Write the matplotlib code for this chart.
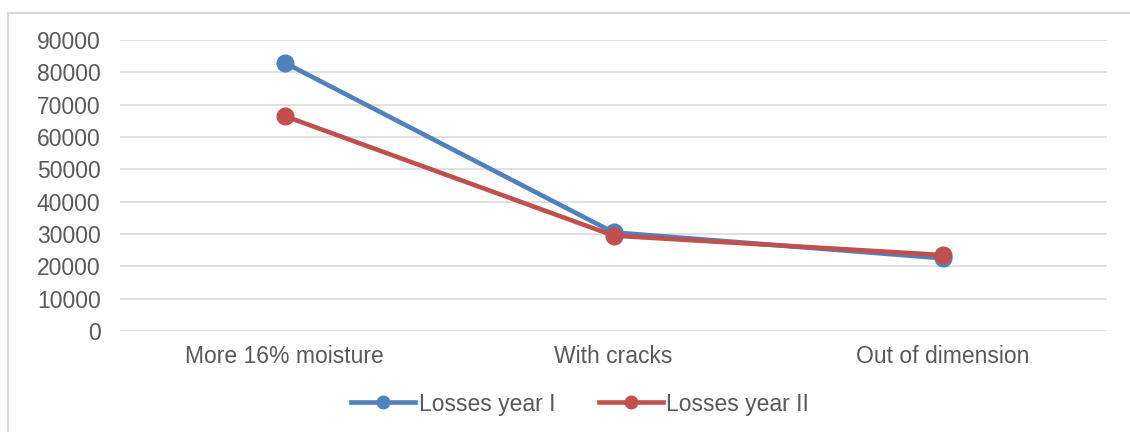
import matplotlib
matplotlib.use("Agg")
import matplotlib.pyplot as plt
from matplotlib.lines import Line2D
from matplotlib.patches import Rectangle

categories = ["More 16% moisture", "With cracks", "Out of dimension"]
losses_year_1 = [83000, 30500, 22500]
losses_year_2 = [66500, 29500, 23500]
yticks = [0, 10000, 20000, 30000, 40000, 50000, 60000, 70000, 80000, 90000]
series_labels = ["Losses year I", "Losses year II"]

BLUE = "#4f81bd"
RED = "#c0504d"
GRID = "#d9d9d9"
TEXT = "#595959"

plt.rcParams['font.family'] = ['Liberation Sans', 'DejaVu Sans']

fig = plt.figure(figsize=(11.30, 4.32), dpi=100)
ax = fig.add_axes([120/1130, 1 - 331/432, (1107 - 120)/1130, (331 - 40)/432])

x = list(range(len(categories)))
ax.plot(x, losses_year_1, color=BLUE, lw=3.3, marker='o', markersize=12, zorder=3,
        solid_capstyle='round')
ax.plot(x, losses_year_2, color=RED, lw=3.3, marker='o', markersize=12, zorder=4,
        solid_capstyle='round')

ax.set_xlim(-0.5, len(categories) - 0.5)
ax.set_ylim(0, 90000)
ax.set_yticks(yticks)
ax.set_yticklabels([str(v) for v in yticks])
ax.set_xticks(x)
ax.set_xticklabels(categories)
ax.grid(axis='y', color=GRID, lw=1.1)
ax.set_axisbelow(True)
for s in ax.spines.values():
    s.set_visible(False)
ax.tick_params(axis='both', length=0, labelsize=16.5, labelcolor=TEXT)
ax.tick_params(axis='y', pad=14)
ax.tick_params(axis='x', pad=10)

handles = [
    Line2D([], [], color=BLUE, lw=3.3, marker='o', markersize=9),
    Line2D([], [], color=RED, lw=3.3, marker='o', markersize=9),
]
leg = fig.legend(handles, series_labels, loc='center', bbox_to_anchor=(580/1130, 1 - 404/432),
                 ncol=2, frameon=False, fontsize=16.5, handlelength=2.8, handletextpad=0.15,
                 columnspacing=1.9, labelcolor=TEXT)

border = Rectangle((8/1130, -0.2), 1.2, (1 - 13/432) + 0.2, transform=fig.transFigure,
                   fill=False, edgecolor=GRID, lw=1.6, clip_on=False)
fig.patches.append(border)

fig.savefig("out.png", dpi=100)
